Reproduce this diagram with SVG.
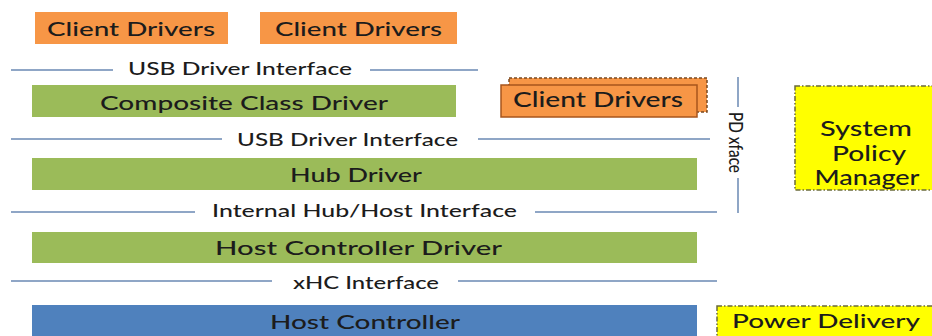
<svg xmlns="http://www.w3.org/2000/svg" width="932" height="336" viewBox="0 0 932 336">
<style>
  text { font-family: Lato, "Open Sans", "Liberation Sans", sans-serif; fill: #1c1c1c; font-weight: 500; }
  .big { font-size: 20px; }
  .small { font-size: 18px; }
  .orange { fill: #f79646; }
  .green { fill: #9bbb59; }
  .blue { fill: #4f81bd; }
  .yellow { fill: #ffff00; stroke: #6b6b3a; stroke-width: 1.5; stroke-dasharray: 5 2 1.5 2; }
  .iface { stroke: #8fa6c6; stroke-width: 2; fill: none; }
</style>
<rect width="932" height="336" fill="#ffffff"/>

<g id="client-drivers-1">
  <rect class="orange" x="35" y="12" width="193" height="32"/>
  <text class="big" x="47" y="36" textLength="168" lengthAdjust="spacingAndGlyphs">Client Drivers</text>
</g>
<g id="client-drivers-2">
  <rect class="orange" x="260" y="12" width="197" height="32"/>
  <text class="big" x="275" y="36" textLength="167" lengthAdjust="spacingAndGlyphs">Client Drivers</text>
</g>

<g id="composite-class-driver">
  <rect class="green" x="32" y="85" width="424" height="32"/>
  <text class="big" x="100" y="110" textLength="288" lengthAdjust="spacingAndGlyphs">Composite Class Driver</text>
</g>

<g id="client-drivers-3">
  <rect x="509" y="78" width="198" height="34" fill="#f79646" stroke="#7a4a22" stroke-width="1.5" stroke-dasharray="3 2"/>
  <rect x="501" y="85" width="196" height="32" fill="#f79646" stroke="#a8551c" stroke-width="1.5"/>
  <text class="big" x="513" y="107" textLength="170" lengthAdjust="spacingAndGlyphs" style="font-size:21px">Client Drivers</text>
</g>

<g id="hub-driver">
  <rect class="green" x="32" y="158" width="665" height="32"/>
  <text class="big" x="290" y="182" textLength="132" lengthAdjust="spacingAndGlyphs">Hub Driver</text>
</g>

<g id="host-controller-driver">
  <rect class="green" x="32" y="232" width="665" height="31"/>
  <text class="big" x="215" y="255" textLength="287" lengthAdjust="spacingAndGlyphs">Host Controller Driver</text>
</g>

<g id="host-controller">
  <rect class="blue" x="32" y="305" width="665" height="40"/>
  <text class="big" x="270" y="329" textLength="190" lengthAdjust="spacingAndGlyphs">Host Controller</text>
</g>

<g id="system-policy-manager">
  <rect class="yellow" x="795" y="86" width="145" height="104"/>
  <text class="big" x="866" y="136" text-anchor="middle" textLength="92" lengthAdjust="spacingAndGlyphs" style="font-size:21px">System</text>
  <text class="big" x="869" y="161" text-anchor="middle" textLength="74" lengthAdjust="spacingAndGlyphs" style="font-size:21px">Policy</text>
  <text class="big" x="867" y="185" text-anchor="middle" textLength="105" lengthAdjust="spacingAndGlyphs" style="font-size:21px">Manager</text>
</g>

<g id="power-delivery">
  <rect class="yellow" x="717" y="306" width="225" height="40"/>
  <text class="big" x="732" y="328" textLength="188" lengthAdjust="spacingAndGlyphs">Power Delivery</text>
</g>

<g id="interfaces">
  <line class="iface" x1="11" y1="70" x2="113" y2="70"/>
  <line class="iface" x1="370" y1="70" x2="478" y2="70"/>
  <text class="small" x="128" y="75" textLength="224" lengthAdjust="spacingAndGlyphs">USB Driver Interface</text>

  <line class="iface" x1="11" y1="139" x2="222" y2="139"/>
  <line class="iface" x1="478" y1="139" x2="710" y2="139"/>
  <text class="small" x="237" y="146" textLength="221" lengthAdjust="spacingAndGlyphs">USB Driver Interface</text>

  <line class="iface" x1="11" y1="212" x2="195" y2="212"/>
  <line class="iface" x1="535" y1="212" x2="717" y2="212"/>
  <text class="small" x="212" y="217" textLength="305" lengthAdjust="spacingAndGlyphs">Internal Hub/Host Interface</text>

  <line class="iface" x1="11" y1="281" x2="272" y2="281"/>
  <line class="iface" x1="458" y1="281" x2="717" y2="281"/>
  <text class="small" x="293" y="289" textLength="146" lengthAdjust="spacingAndGlyphs">xHC Interface</text>

  <line class="iface" x1="738" y1="77" x2="738" y2="107"/>
  <line class="iface" x1="738" y1="178" x2="738" y2="213"/>
  <text x="0" y="0" transform="translate(729,112) rotate(90)" textLength="61" lengthAdjust="spacingAndGlyphs" style="font-size:19px">PD xface</text>
</g>
</svg>
